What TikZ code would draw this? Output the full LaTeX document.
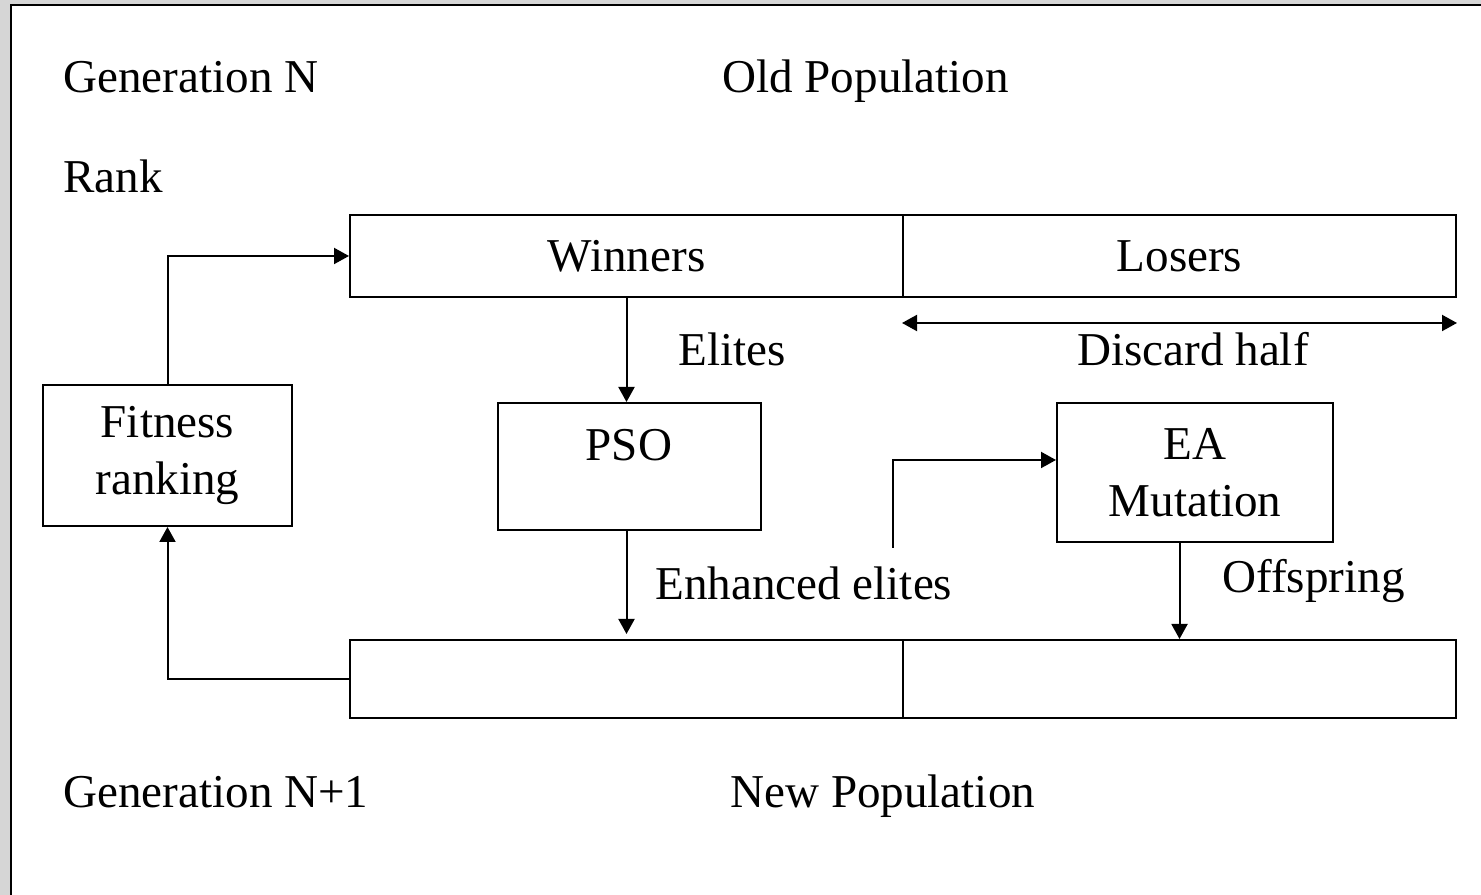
\documentclass[tikz,border=0pt]{standalone}
\usepackage{fontspec}
\setmainfont{Liberation Serif}
\usetikzlibrary{arrows.meta}

\definecolor{margin}{RGB}{214,214,214}
\tikzset{
  every node/.style={font=\fontsize{26.8}{32.4}\selectfont, inner sep=0pt},
  box/.style={draw, line width=0.04cm, align=center},
  link/.style={line width=0.04cm, -{Triangle[length=0.3cm,width=0.32cm]}},
}

\begin{document}
\begin{tikzpicture}
\useasboundingbox (0,0) rectangle (29.62,17.90);
\clip (0,0) rectangle (29.62,17.90);
%----------------- sheet -----------------
\fill[margin] (0,0) rectangle (29.62,17.90);
\draw[fill=white, line width=0.04cm] (0.22,-1) rectangle (30.5,17.80);
% headings
\node[anchor=base west] (gen) at (1.26,16.04) {Generation N};
\node[anchor=base west] (oldpop) at (14.44,16.04) {Old Population};
\node[anchor=base west] (rank) at (1.26,14.04) {Rank};
\node[anchor=base west] (gennext) at (1.26,1.74) {Generation N+1};
\node[anchor=base west] (newpop) at (14.60,1.74) {New Population};
%----------------- old population -----------------
\node[box, minimum width=11.06cm, minimum height=1.64cm] (win) at (12.53,12.78) {Winners};
\node[box, minimum width=11.06cm, minimum height=1.64cm] (los) at (23.59,12.78) {Losers};
\draw[line width=0.04cm, {Triangle[length=0.3cm,width=0.32cm]}-{Triangle[length=0.3cm,width=0.32cm]}]
  ([yshift=-0.5cm]los.south west) -- ([yshift=-0.5cm]los.south east);
\node[anchor=base] (discard) at (23.86,10.58) {Discard half};
%----------------- operators -----------------
\node[box, minimum width=4.98cm, minimum height=2.82cm] (fit) at (3.35,8.79) {Fitness\\ranking};
\node[box, minimum width=5.26cm, minimum height=2.54cm] (pso) at (12.59,8.57) {};
\node[anchor=base] (psolabel) at (12.58,8.68) {PSO};
\node[box, minimum width=5.52cm, minimum height=2.78cm] (ea) at (23.90,8.45) {EA\\Mutation};
%----------------- new population -----------------
\node[box, minimum width=11.06cm, minimum height=1.56cm] (newa) at (12.53,4.32) {};
\node[box, minimum width=11.06cm, minimum height=1.56cm] (newb) at (23.59,4.32) {};
%----------------- flows -----------------
\draw[link] (win.south) -- (win.south |- pso.north);
\node[anchor=base west] (elites) at (13.56,10.58) {Elites};
\draw[link, shorten >=0.1cm] (win.south |- pso.south) -- (newa.north);
\node[anchor=base west] (enh) at (13.10,5.90) {Enhanced elites};
\coordinate (feed) at (17.86,6.94);
\draw[link] (feed) |- ([yshift=0.25cm]ea.west);
\draw[link] (ea.south -| newb.north) -- (newb.north);
\node[anchor=base west] (offspring) at (24.44,6.04) {Offspring};
% ranking loop
\draw[link] (fit.north) |- (win.west);
\draw[link] (newa.west) -| (fit.south);
\end{tikzpicture}
\end{document}
